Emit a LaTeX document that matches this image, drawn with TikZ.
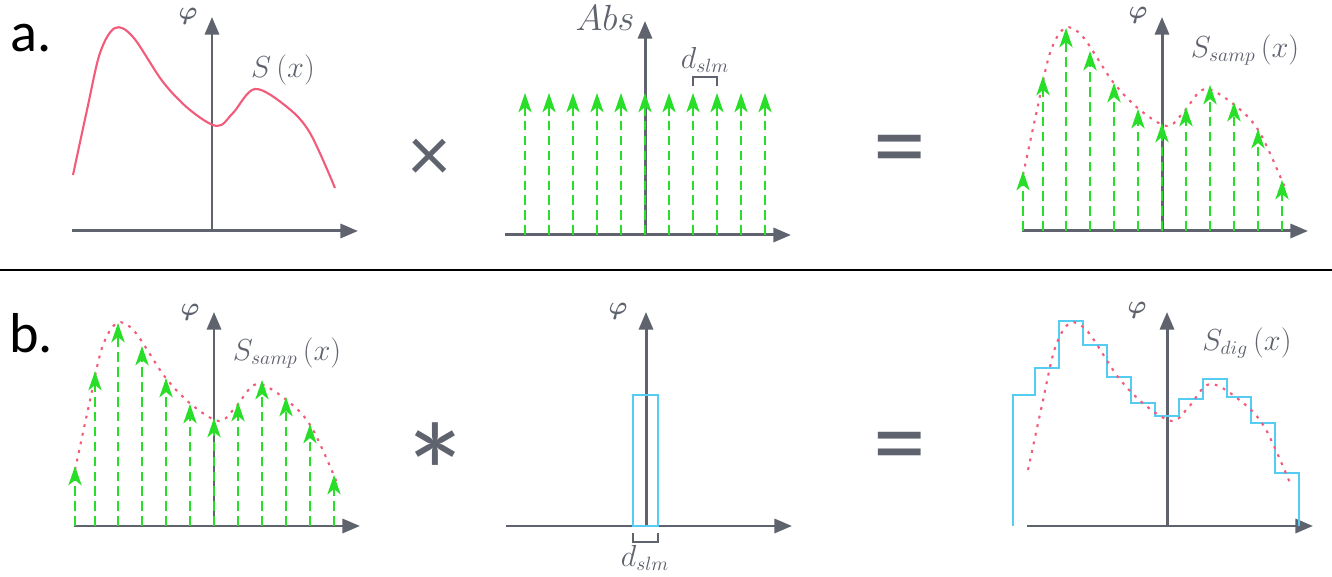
\documentclass[tikz,border=0pt]{standalone}
\usepackage{amsmath,amssymb}
\usepackage{bm}
\usepackage{fontspec}
\newfontfamily\opfont{Carlito}
\usepackage{xcolor}
\usetikzlibrary{arrows.meta,positioning,calc}
\definecolor{axisgray}{RGB}{95,99,110}
\definecolor{sigpink}{RGB}{242,92,122}
\definecolor{samplegreen}{RGB}{40,222,40}
\definecolor{pixblue}{RGB}{85,204,242}
\tikzset{
    axes/.pic={
        \draw[axis] (-140,0) -- (146,0);
        \draw[axis] (0,0) -- (0,214);
    },
    curve/.pic={
        \path[pic actions] plot[smooth,tension=0.55] coordinates {(-139,56) (-125,121) (-112,178) (-97,203) (-79,194) (-49,149) (-22,121) (5,105) (21,118) (43,142) (75,124) (98,98) (123,43)};
    },
    samples/.pic={
        \foreach \sx/\sh in {-139/60,-119/155,-96/203,-72/180,-48/148,-24/122,0/108,24/124,48/146,72/129,96/102,120/51}
            \draw[sample] (\sx,0) -- (\sx,\sh);
    }
}

\begin{document}
\begin{tikzpicture}[x=0.02cm, y=0.02cm,
    axis/.style={draw=axisgray, line width=1.7pt, -{Triangle[length=10pt,width=8pt]}},
    sample/.style={draw=samplegreen, line width=1.4pt, dash pattern=on 5.5pt off 3pt, -{Stealth[length=11pt,width=7.5pt,inset=3pt]}},
    signal/.style={draw=sigpink, line width=1.2pt},
    sampled/.style={signal, dash pattern=on 1.6pt off 3.4pt},
    pixel/.style={draw=pixblue, line width=1.4pt},
    bracket/.style={draw=axisgray, line width=1.3pt},
    lbl/.style={text=axisgray, font=\fontsize{16}{19}\selectfont},
    philbl/.style={text=axisgray, font=\fontsize{14}{16}\selectfont},
    panel/.style={font=\opfont\fontsize{32}{36}\selectfont},
    op/.style={text=axisgray, font=\opfont\fontsize{60}{70}\selectfont}
]
    \useasboundingbox (0,0) rectangle (1332,577);

    % a. signal times comb
    \node[panel] (la) at (31,539) {a.};
    \begin{scope}[shift={(212,346)}]
        \pic {axes};
        \pic[signal] {curve};
        \node[philbl] (phiA) at (-24,215) {$\bm{\varphi}$};
        \node[lbl] (sigA) at (71,161) {$S\,(x)$};
    \end{scope}
    \node[op, font=\opfont\fontsize{46}{50}\selectfont] (times) at (430,417) {×};
    \begin{scope}[shift={(645,342)}]
        \pic {axes};
        \foreach \sx in {-120,-96,...,120}
            \draw[sample] (\sx,0) -- (\sx,142);
        \node[lbl, font=\fontsize{22}{26}\selectfont] (absB) at (-40,217) {$Abs$};
        \draw[bracket] (48,149) -- (48,158) -- (72,158) -- (72,149);
        \node[lbl] (dA) at (60,175) {$d_{slm}$};
    \end{scope}
    \node[op] (eqA) at (900,419) {=};
    \begin{scope}[shift={(1162,346)}]
        \pic {axes};
        \pic[sampled] {curve};
        \pic {samples};
        \node[philbl] (phiC) at (-24,216) {$\bm{\varphi}$};
        \node[lbl] (sigC) at (83,181) {$S_{samp}\,(x)$};
    \end{scope}

    \draw[line width=1.5pt] (0,307) -- (1332,307);

    % b. sampled signal convolved with pixel
    \node[panel] (lb) at (31,244) {b.};
    \begin{scope}[shift={(214,51)}]
        \pic {axes};
        \pic[sampled] {curve};
        \pic {samples};
        \node[philbl] (phiD) at (-24,214) {$\bm{\varphi}$};
        \node[lbl] (sigD) at (73,173) {$S_{samp}\,(x)$};
    \end{scope}
    \node[op, font=\opfont\fontsize{80}{90}\selectfont] (conv) at (435,104) {*};
    \begin{scope}[shift={(646,51)}]
        \pic {axes};
        \draw[pixel] (-13,0) rectangle (12,131);
        \draw[bracket] (-13,-7) -- (-13,-16) -- (12,-16) -- (12,-7);
        \node[philbl] (phiE) at (-28,215) {$\bm{\varphi}$};
        \node[lbl] (dE) at (-1,-32) {$d_{slm}$};
    \end{scope}
    \node[op] (eqB) at (900,122) {=};
    \begin{scope}[shift={(1167,51)}]
        \pic {axes};
        \draw[pixel] (-154,0) |- (-132,131) |- (-108,158) |- (-84,205) |- (-60,181) |- (-36,149) |- (-12,123) |- (12,110) |- (36,127) |- (60,147) |- (84,129) |- (108,103) |- (132,53) -- (132,0);
        \pic[sampled] {curve};
        \node[philbl] (phiF) at (-30,216) {$\bm{\varphi}$};
        \node[lbl] (sigF) at (80,183) {$S_{dig}\,(x)$};
    \end{scope}
\end{tikzpicture}
\end{document}
